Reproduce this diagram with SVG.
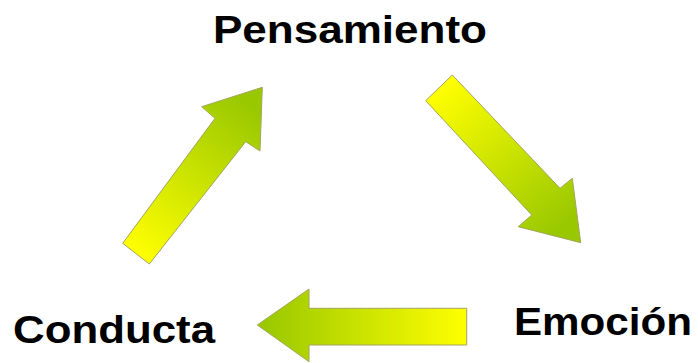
<svg xmlns="http://www.w3.org/2000/svg" width="698" height="363" viewBox="0 0 698 363">
  <style>
    .lbl { font-family: "Liberation Sans", Arial, sans-serif; font-weight: bold; font-size: 39px; fill: #000; }
    .arrow { stroke: #a4a45c; stroke-width: 1; stroke-linejoin: miter; }
  </style>
  <defs>
    <linearGradient id="g1" gradientUnits="userSpaceOnUse" x1="136" y1="254" x2="250" y2="105">
      <stop offset="0" stop-color="#ffff00"/>
      <stop offset="1" stop-color="#99c800"/>
    </linearGradient>
    <linearGradient id="g2" gradientUnits="userSpaceOnUse" x1="439" y1="88" x2="560" y2="230">
      <stop offset="0" stop-color="#ffff00"/>
      <stop offset="1" stop-color="#99c800"/>
    </linearGradient>
    <linearGradient id="g3" gradientUnits="userSpaceOnUse" x1="466" y1="325" x2="262" y2="325">
      <stop offset="0" stop-color="#ffff00"/>
      <stop offset="1" stop-color="#99c800"/>
    </linearGradient>
  </defs>
  <g id="connectors">
    <polygon id="arrow-conducta-pensamiento" class="arrow" fill="url(#g1)" points="122.7,243.3 215,118.3 201.7,106.7 262.3,87.3 260,151 245.7,141.7 149.3,264"/>
    <polygon id="arrow-pensamiento-emocion" class="arrow" fill="url(#g2)" points="452.3,75 560,188.3 572.3,178.3 580.7,242.7 518.3,226.7 531.7,215 425.7,100.7"/>
    <polygon id="arrow-emocion-conducta" class="arrow" fill="url(#g3)" points="466.7,308.3 309,308.3 309,289 257.3,325 309,361.7 309,345 466.7,345"/>
  </g>
  <g id="pensamiento">
    <text class="lbl" x="213" y="43" textLength="274" lengthAdjust="spacingAndGlyphs">Pensamiento</text>
  </g>
  <g id="conducta">
    <text class="lbl" x="13" y="343" textLength="202" lengthAdjust="spacingAndGlyphs">Conducta</text>
  </g>
  <g id="emocion">
    <text class="lbl" x="514" y="335" textLength="178" lengthAdjust="spacingAndGlyphs">Emoción</text>
  </g>
</svg>
